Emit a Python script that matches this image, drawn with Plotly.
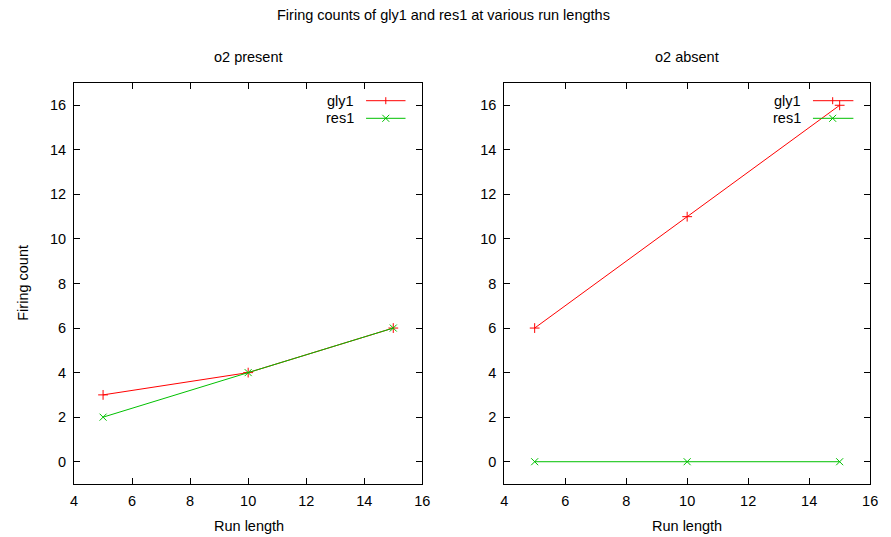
import plotly.graph_objects as go

run_length = [5, 10, 15]
gly1_present = [3, 4, 6]
res1_present = [2, 4, 6]
gly1_absent = [6, 11, 16]
res1_absent = [0, 0, 0]

x_ticks = [4, 6, 8, 10, 12, 14, 16]
y_ticks = [0, 2, 4, 6, 8, 10, 12, 14, 16]

RED = "#ff0000"
GREEN = "#00c000"
FONT = "Liberation Sans, Arial, sans-serif"
FS = 14.5

W, H = 891, 537
fig = go.Figure()

def add_series(x, y, color, symbol, xa, ya):
    fig.add_trace(go.Scatter(
        x=x, y=y, mode="lines+markers", xaxis=xa, yaxis=ya,
        line=dict(color=color, width=1),
        marker=dict(symbol=symbol, size=7, color=color,
                    line=dict(color=color, width=1)),
        showlegend=False, cliponaxis=False))

add_series(run_length, gly1_present, RED, "cross-thin", "x", "y")
add_series(run_length, res1_present, GREEN, "x-thin", "x", "y")
add_series(run_length, gly1_absent, RED, "cross-thin", "x2", "y2")
add_series(run_length, res1_absent, GREEN, "x-thin", "x2", "y2")

axis_common = dict(
    showgrid=False, zeroline=False, showline=True, linecolor="black",
    linewidth=1, mirror="ticks", ticks="inside", ticklen=6, tickwidth=1,
    tickcolor="black", tickfont=dict(family=FONT, size=FS, color="black"),
    ticklabelstandoff=4,
)

dom1 = [71 / W, 424 / W]
dom2 = [507 / W, 878 / W]
ydom = [1 - 484 / H, 1 - 83 / H]

fig.update_layout(
    width=W, height=H, margin=dict(l=0, r=0, t=0, b=0),
    paper_bgcolor="white", plot_bgcolor="white",
    font=dict(family=FONT, size=FS, color="black"),
    xaxis=dict(domain=dom1, range=[4, 16], tickvals=x_ticks, anchor="y", **axis_common),
    yaxis=dict(domain=ydom, range=[-1, 17], tickvals=y_ticks, anchor="x", **axis_common),
    xaxis2=dict(domain=dom2, range=[4, 16], tickvals=x_ticks, anchor="y2", **axis_common),
    yaxis2=dict(domain=ydom, range=[-1, 17], tickvals=y_ticks, anchor="x2", **axis_common),
)

def pa(text, x, y, **kw):
    d = dict(text=text, x=x / W, y=1 - y / H, xref="paper", yref="paper",
             xanchor="center", yanchor="middle",
             showarrow=False, font=dict(size=FS))
    d.update(kw)
    return d

annotations = [
    pa("Firing counts of gly1 and res1 at various run lengths", 445, 15),
    pa("o2 present", 248, 57),
    pa("o2 absent", 692, 57),
    pa("Run length", 248, 526),
    pa("Run length", 692, 526),
    pa("Firing count", 19, 283, textangle=-90),
]

# legends (gnuplot style: label then sample line with point glyph)
legend_items = [("gly1", RED, "plus", 100.7), ("res1", GREEN, "cross", 118.3)]
panels = [(357, 367, 407, 387), (810, 820, 861, 840)]
shapes = []

def seg(x0, y0, x1, y1, color):
    return dict(type="line", xref="paper", yref="paper",
                x0=x0 / W, x1=x1 / W, y0=1 - y0 / H, y1=1 - y1 / H,
                line=dict(color=color, width=1))

r = 3.5
for (tx, lx0, lx1, mx) in panels:
    for (label, color, glyph, py) in legend_items:
        annotations.append(pa(label, tx, py, xanchor="right"))
        shapes.append(seg(lx0, py, lx1, py, color))
        if glyph == "plus":
            shapes.append(seg(mx, py - r, mx, py + r, color))
        else:
            shapes.append(seg(mx - r, py - r, mx + r, py + r, color))
            shapes.append(seg(mx - r, py + r, mx + r, py - r, color))

fig.update_layout(annotations=annotations, shapes=shapes)

fig.write_html("out.html")
